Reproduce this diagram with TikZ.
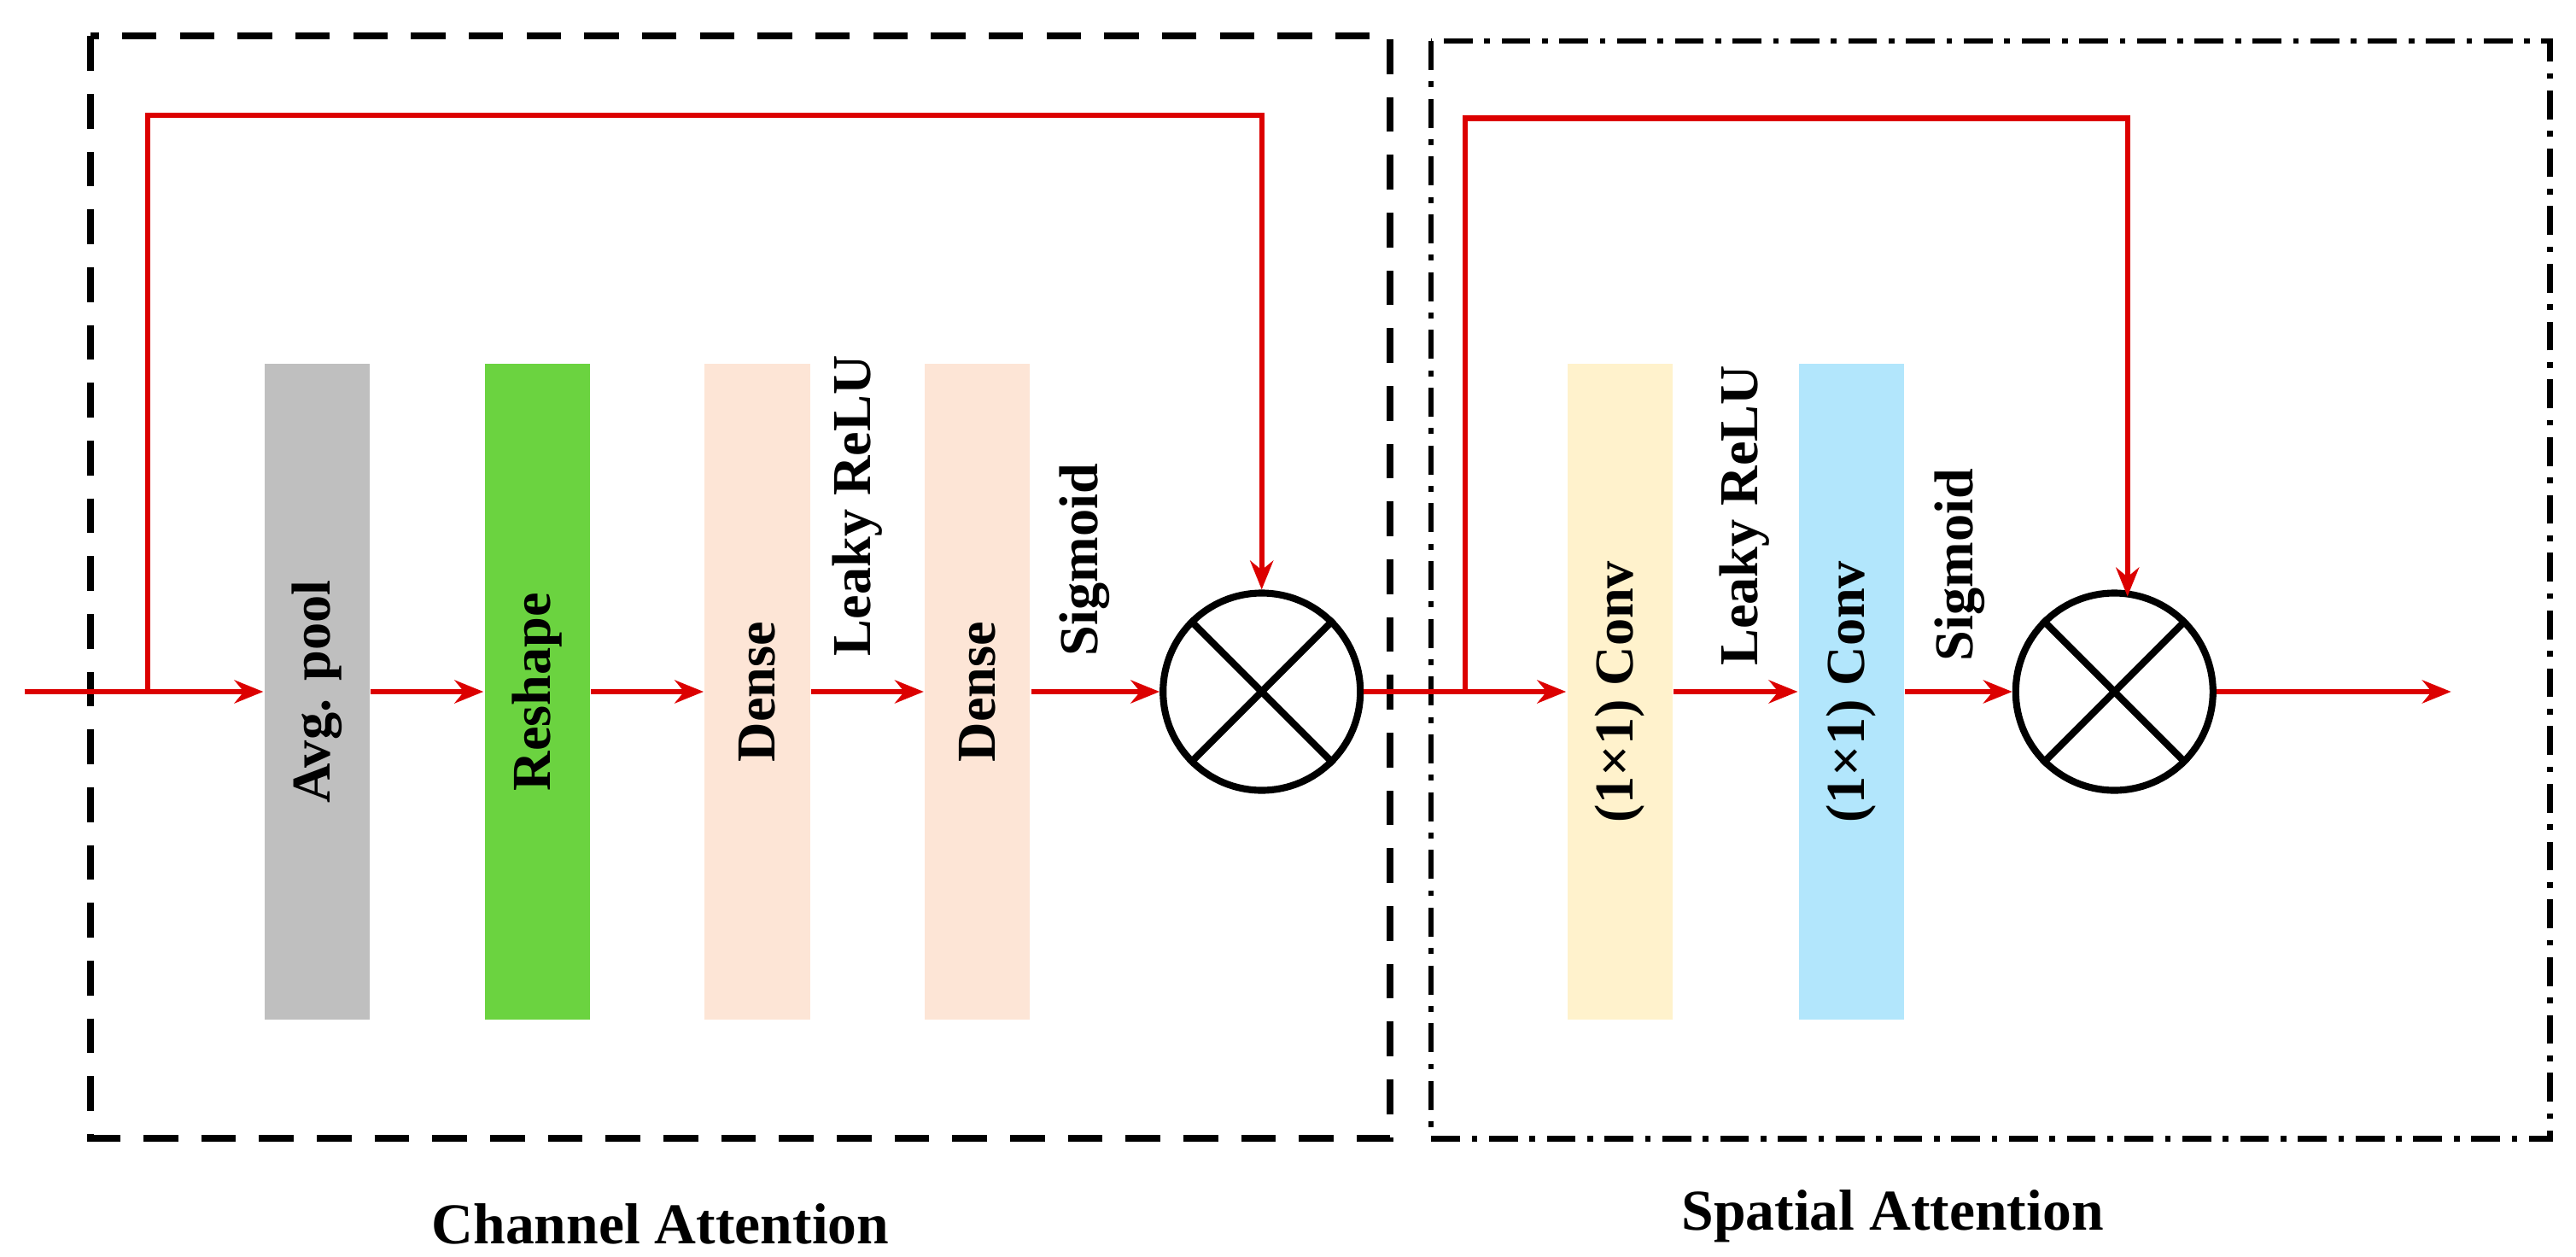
\documentclass[tikz,border=0pt]{standalone}
\usepackage{fontspec}
\setmainfont{Liberation Serif}
\usetikzlibrary{arrows.meta}
\begin{document}
\begin{tikzpicture}[x=0.01cm,y=-0.01cm,
  bar/.style={minimum width=0.64cm,minimum height=3.99cm,inner sep=0pt,font=\fontsize{9.5pt}{10pt}\selectfont\bfseries},
  lbl/.style={rotate=90,anchor=west,font=\fontsize{9.5pt}{10pt}\selectfont\bfseries,inner sep=0pt},
  ar/.style={draw={rgb,255:red,220;green,0;blue,0},line width=0.9pt,-{Stealth[length=5pt,width=4pt]}},
  ln/.style={draw={rgb,255:red,220;green,0;blue,0},line width=0.9pt},
  mul/.style={circle,draw,line width=1.2pt,minimum size=1.2cm,inner sep=0pt}]
\useasboundingbox (0,0) rectangle (1568,765);
\draw[line width=1.2pt,dash pattern=on 6pt off 4pt] (55,22) rectangle (846,693);
\draw[line width=1pt,dash pattern=on 5pt off 2pt on 1pt off 2pt] (871,25) rectangle (1552,693);
\node[bar,fill={rgb,255:red,191;green,191;blue,191}] (ap) at (193,421) {\rotatebox{90}{Avg. pool}};
\node[bar,fill={rgb,255:red,107;green,211;blue,64}] (rs) at (327,421) {\rotatebox{90}{Reshape}};
\node[bar,fill={rgb,255:red,253;green,229;blue,214}] (d1) at (461,421) {\rotatebox{90}{Dense}};
\node[bar,fill={rgb,255:red,253;green,229;blue,214}] (d2) at (595,421) {\rotatebox{90}{Dense}};
\node[mul] (m1) at (768,421) {};
\draw[line width=1.2pt] (m1.45)--(m1.225) (m1.135)--(m1.315);
\node[bar,fill={rgb,255:red,255;green,242;blue,204}] (c1) at (986,421) {\rotatebox{90}{(1×1) Conv}};
\node[bar,fill={rgb,255:red,178;green,230;blue,252}] (c2) at (1127,421) {\rotatebox{90}{(1×1) Conv}};
\node[mul] (m2) at (1287,421) {};
\draw[line width=1.2pt] (m2.45)--(m2.225) (m2.135)--(m2.315);
\node[lbl] at (522,400) {Leaky ReLU};
\node[lbl] at (660,400) {Sigmoid};
\node[lbl] at (1062,406) {Leaky ReLU};
\node[lbl] at (1193,403) {Sigmoid};
\coordinate (in) at (15,421);
\coordinate (b1) at (90,421);
\coordinate (b2) at (892,421);
\coordinate (out) at (1492,421);
\draw[ln] (in)--(b1);
\draw[ar] (b1)--(ap.west);
\draw[ar] (ap)--(rs.west);
\draw[ar] (rs)--(d1.west);
\draw[ar] (d1)--(d2.west);
\draw[ar] (d2)--(m1.west);
\draw[ar] (b1)--(90,70)--(768,70)--(m1.north);
\draw[ln] (m1.east)--(b2);
\draw[ar] (b2)--(c1.west);
\draw[ar] (c1)--(c2.west);
\draw[ar] (c2)--(m2.west);
\draw[ar] (b2)--(892,72)--(1295,72)--(1295,363);
\draw[ar] (m2.east)--(out);
\node[font=\fontsize{10pt}{11pt}\selectfont\bfseries] (t1) at (402,745) {Channel Attention};
\node[font=\fontsize{10pt}{11pt}\selectfont\bfseries] (t2) at (1152,740) {Spatial Attention};
\end{tikzpicture}
\end{document}
